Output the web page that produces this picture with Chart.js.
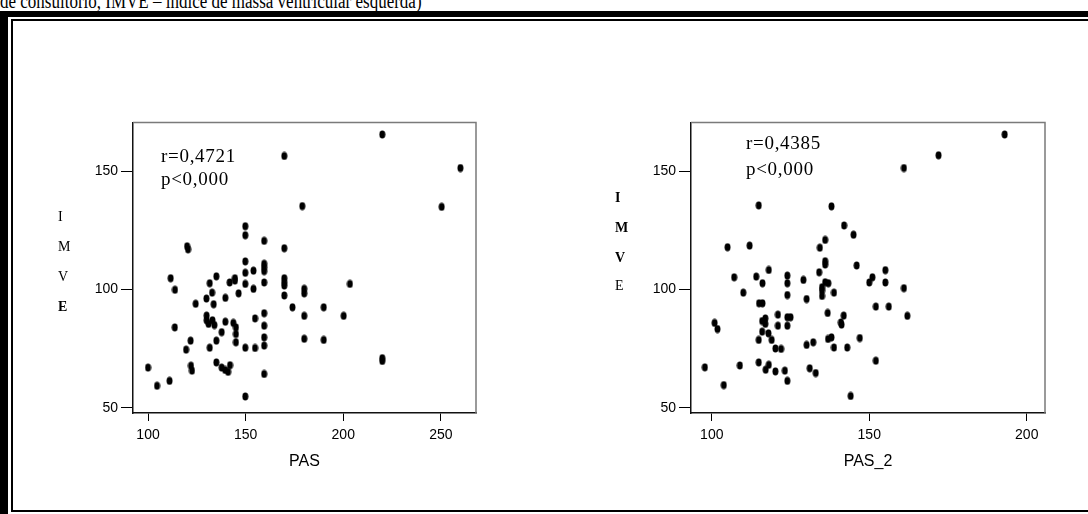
<!DOCTYPE html>
<html lang="pt">
<head>
  <meta charset="UTF-8">
  <title>IMVE x PAS</title>
  <style>
    body {
      margin: 0;
      width: 1088px;
      height: 514px;
      overflow: hidden;
      background: #fff;
      position: relative;
      font-family: 'Liberation Serif', serif;
    }
    .caption {
      position: absolute;
      left: 0;
      top: -9px;
      font-size: 20px;
      line-height: 20px;
      white-space: nowrap;
      color: #000;
      transform: scaleX(0.85);
      transform-origin: 0 0;
    }
    .frame-outer {
      position: absolute;
      left: 0;
      top: 11px;
      width: 1100px;
      height: 520px;
      border-top: 6px solid #000;
      border-left: 8px solid #000;
    }
    .frame-inner {
      position: absolute;
      left: 11px;
      top: 19px;
      width: 1100px;
      height: 489px;
      border: 2px solid #000;
    }
    canvas { position: absolute; }
    #chartPas  { left: 60px;  top: 111px; }
    #chartPas2 { left: 620px; top: 111px; }
    .letter {
      position: absolute;
      font-size: 14px;
      line-height: 14px;
      color: #000;
    }
    .stat {
      position: absolute;
      font-size: 19px;
      line-height: 19px;
      letter-spacing: 0.7px;
      color: #000;
      white-space: nowrap;
    }
  </style>
</head>
<body>

  <div class="caption">de consultório, IMVE – índice de massa ventricular esquerda)</div>
  <div class="frame-outer"></div>
  <div class="frame-inner"></div>

  <canvas id="chartPas" width="430" height="375"></canvas>
  <canvas id="chartPas2" width="440" height="375"></canvas>

  <!-- vertical IMVE labels -->
  <div class="letter" style="left:58px; top:210px">I</div>
  <div class="letter" style="left:58px; top:240px">M</div>
  <div class="letter" style="left:58px; top:270px">V</div>
  <div class="letter" style="left:58px; top:300px; font-weight:bold">E</div>

  <div class="letter" style="left:615px; top:191px; font-weight:bold">I</div>
  <div class="letter" style="left:615px; top:221px; font-weight:bold">M</div>
  <div class="letter" style="left:615px; top:251px; font-weight:bold">V</div>
  <div class="letter" style="left:615px; top:279px">E</div>

  <div class="stat" style="left:161px; top:146px">r=0,4721</div>
  <div class="stat" style="left:161px; top:169px">p&lt;0,000</div>
  <div class="stat" style="left:746px; top:133px">r=0,4385</div>
  <div class="stat" style="left:746px; top:159px">p&lt;0,000</div>

  <script src="https://cdn.jsdelivr.net/npm/chart.js"></script>
  <script>
    // ---- data ----
    const pasTicks  = [100, 150, 200, 250];
    const pas2Ticks = [100, 150, 200];
    const imveTicks = [50, 100, 150];

    const pasX = [
      100, 104.6, 111, 113.7, 119.5, 121.8, 122, 122.5, 124.4, 129.9,
      130, 130, 131, 133, 134, 132.8, 133.6, 131.6, 135, 135,
      137.7, 139.6, 139.6, 137.7, 139.5, 141, 142, 143.7, 145, 145,
      145, 146.4, 149.8, 149.8, 154.8, 154.8, 159.5, 159.5, 159.5, 159.5,
      159.5, 174, 111.6, 113.8, 120, 120.5, 131.6, 135, 141.8, 144.5,
      144.5, 149.8, 149.8, 149.8, 149.8, 149.8, 154, 154, 159.5, 159.5,
      159.5, 159.5, 159.5, 169.8, 169.8, 169.8, 169.8, 169.8, 169.8, 220,
      260, 179, 250.4, 180, 180, 203.4, 190, 180, 200.2, 180,
      190, 220, 220
    ];
    const pasImve = [
      67, 59.3, 61.4, 84, 74.6, 78.4, 67.8, 65.7, 94, 96.2,
      89, 87, 85.5, 87, 85, 98.7, 93.8, 75.4, 78.4, 69.2,
      82, 96.5, 86.4, 67, 66, 65.2, 68, 85.9, 84, 81.2,
      77.7, 98.4, 75.4, 54.8, 87.8, 75.3, 90, 84.7, 79.8, 76.3,
      64.3, 92.5, 104.8, 99.9, 118.3, 117, 102.7, 105.6, 103, 104.8,
      103.8, 126.8, 123, 111.9, 107.1, 102.4, 108, 100.3, 120.6, 110.9,
      109.4, 107.8, 103, 156.5, 117.5, 104.8, 103.1, 101.7, 97.5, 165.6,
      151.4, 135.3, 135, 100.3, 98.4, 102.4, 92.5, 88.9, 88.9, 79.2,
      78.7, 69.8, 71
    ];

    const pas2X = [
      114.9, 138, 142, 145, 105, 112, 136, 134.3, 136, 136,
      146, 118.1, 107.1, 114.1, 116.1, 124, 124, 129.1, 134.1, 136,
      137, 135, 135, 135, 138.8, 110, 124, 130.1, 115, 116.1,
      193, 172, 161, 155.1, 151, 150, 155.1, 161, 152.1, 156.2,
      162.1, 147, 152.1, 144.1, 100.9, 101.8, 97.8, 103.8, 108.9, 114.9,
      117.1, 118.1, 120.2, 123.2, 124, 114.9, 116, 116, 117, 117,
      118, 119, 120.2, 122, 121, 121, 124, 125, 124, 130.1,
      132.2, 131.1, 133, 136.8, 141.9, 141, 141.2, 136.9, 138, 138.8,
      143
    ];
    const pas2Imve = [
      135.6, 135.2, 127.1, 123.2, 117.9, 118.6, 121, 117.7, 112, 110.6,
      110.2, 108.3, 105.2, 105.5, 102.7, 105.9, 102.7, 104.1, 107.3, 103.1,
      102.7, 101, 99.6, 97.3, 98.7, 98.7, 97.7, 96, 94.2, 94.2,
      165.6, 156.8, 151.4, 108.2, 105.2, 103, 103, 100.6, 92.8, 92.8,
      88.9, 79.5, 69.9, 55, 85.9, 83.3, 67.1, 59.6, 67.9, 69.2,
      66.1, 68.2, 65.4, 65.7, 61.4, 78.7, 82.2, 86.7, 87.8, 85.5,
      81.5, 78.7, 75.1, 74.9, 89.4, 84.7, 88.3, 88.3, 84.7, 76.6,
      77.7, 66.7, 64.7, 90.1, 89, 86.1, 85.2, 79.1, 79.8, 75.5,
      75.5
    ];

    const sansFont = "'Liberation Sans', Arial, sans-serif";

    // small oval marker like the original plot
    function makeDot() {
      const c = document.createElement('canvas');
      c.width = 7; c.height = 9;
      const g = c.getContext('2d');
      g.fillStyle = '#000';
      g.beginPath();
      g.ellipse(3.5, 4.5, 3, 4, 0, 0, Math.PI * 2);
      g.fill();
      return c;
    }
    const dot = makeDot();

    // gray top/right frame of the plot box
    const boxPlugin = {
      id: 'box',
      afterDraw(chart) {
        const { ctx, chartArea: a } = chart;
        ctx.save();
        ctx.strokeStyle = '#7a7a7a';
        ctx.lineWidth = 1.5;
        ctx.beginPath();
        ctx.moveTo(a.left, a.top);
        ctx.lineTo(a.right, a.top);
        ctx.lineTo(a.right, a.bottom);
        ctx.stroke();
        ctx.restore();
      }
    };

    function makeChart(id, xs, ys, xTicks, xMin, xMax, xTitle, yWidth, padRight) {
      const points = xs.map((x, i) => ({ x, y: ys[i] }));
      return new Chart(document.getElementById(id), {
        type: 'scatter',
        data: {
          datasets: [{
            data: points,
            pointStyle: dot,
            pointRadius: 4,
            pointHoverRadius: 4
          }]
        },
        options: {
          responsive: false,
          animation: false,
          layout: { padding: { top: 10, right: padRight, left: 0, bottom: 0 } },
          plugins: { legend: { display: false }, tooltip: { enabled: false } },
          scales: {
            x: {
              type: 'linear',
              min: xMin,
              max: xMax,
              afterBuildTicks: s => { s.ticks = xTicks.map(v => ({ value: v })); },
              afterFit: s => { s.height = 73; },
              grid: { drawOnChartArea: false, tickLength: 8, color: '#000', lineWidth: 1 },
              border: { color: '#111', width: 1.5 },
              ticks: {
                color: '#000',
                font: { family: sansFont, size: 14 },
                padding: 6,
                maxRotation: 0
              },
              title: {
                display: true,
                text: xTitle,
                color: '#000',
                font: { family: sansFont, size: 16 },
                padding: { top: 0, bottom: 15 }
              }
            },
            y: {
              min: 47.8,
              max: 170.7,
              afterBuildTicks: s => { s.ticks = imveTicks.map(v => ({ value: v })); },
              afterFit: s => { s.width = yWidth; },
              grid: { drawOnChartArea: false, tickLength: 12, color: '#000', lineWidth: 1 },
              border: { color: '#111', width: 1.5 },
              ticks: {
                color: '#000',
                font: { family: sansFont, size: 14 },
                padding: 3
              }
            }
          }
        },
        plugins: [boxPlugin]
      });
    }

    makeChart('chartPas', pasX, pasImve, pasTicks, 92.3, 268, 'PAS', 73, 14);
    makeChart('chartPas2', pas2X, pas2Imve, pas2Ticks, 93.4, 205.8, 'PAS_2', 71, 15);
  </script>

</body>
</html>
